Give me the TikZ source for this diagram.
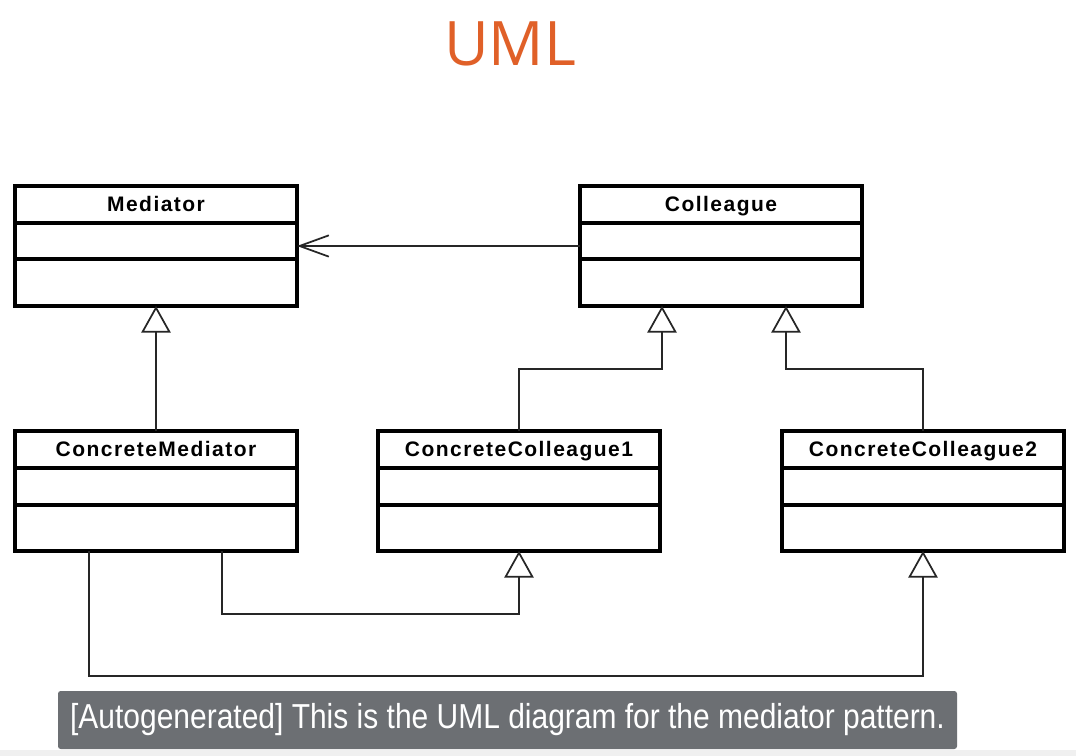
\documentclass[tikz,border=0pt]{standalone}
\usepackage{fontspec}
\usepackage{graphicx}
\setmainfont{Liberation Sans}
\newfontfamily\clsfont[LetterSpace=7]{Liberation Sans}
\newfontfamily\titlefont{Open Sans}
\usepackage{tikz}
\usetikzlibrary{shapes.multipart,arrows.meta,positioning}
\definecolor{umlorange}{RGB}{224,96,40}
\definecolor{capgray}{RGB}{108,111,115}
\definecolor{stripgray}{RGB}{240,240,240}
\newcommand{\clsrow}[2]{\parbox[c][#1][c]{\linewidth}{\centering\smash{#2}\rule{0pt}{11.2pt}}}
\tikzset{
  every node/.style={
    font=\clsfont\bfseries\fontsize{15.75}{18}\selectfont
  },
  umlclass/.style={
    rectangle split,
    rectangle split parts=3,
    draw=black,
    line width=2.4pt,
    text width=211.5pt,
    inner sep=0pt,
    outer sep=0pt,
    anchor=north west
  },
  inherit/.style={
    draw=black!85,
    line width=1.3pt,
    -{Triangle[open,length=20pt,width=22pt,line width=1.3pt]}
  },
  assoc/.style={
    draw=black!85,
    line width=1.3pt,
    -{Straight Barb[length=22pt,width=16pt,line width=1.3pt]}
  },
  title/.style={
    font=\titlefont\fontsize{46}{50}\selectfont,
    text=umlorange
  },
  caption/.style={
    fill=capgray,
    rounded corners=2pt,
    minimum width=674.25pt,
    minimum height=43.5pt,
    text=white,
    font=\rmfamily\fontsize{26}{30}\selectfont
  }
}

\begin{document}
\begin{tikzpicture}[x=0.75pt,y=-0.75pt]

\fill[white] (0,0) rectangle (1076,756);
\useasboundingbox (0,0) rectangle (1076,756);
\fill[stripgray] (0,750) rectangle (1076,756);

\node [title] (ttl) at (510,44) {UML};

\node [umlclass] (med) at (15,186) {
  \clsrow{25.35pt}{Mediator}
  \nodepart{second}\clsrow{24.6pt}{}
  \nodepart{third}\clsrow{32.85pt}{}
};
\node [umlclass] (col) at (580,186) {
  \clsrow{25.35pt}{Colleague}
  \nodepart{second}\clsrow{24.6pt}{}
  \nodepart{third}\clsrow{32.85pt}{}
};
\node [umlclass] (cmed) at (15,431) {
  \clsrow{25.35pt}{ConcreteMediator}
  \nodepart{second}\clsrow{25.35pt}{}
  \nodepart{third}\clsrow{32.1pt}{}
};
\node [umlclass] (cc1) at (378,431) {
  \clsrow{25.35pt}{ConcreteColleague1}
  \nodepart{second}\clsrow{25.35pt}{}
  \nodepart{third}\clsrow{32.1pt}{}
};
\node [umlclass] (cc2) at (782,431) {
  \clsrow{25.35pt}{ConcreteColleague2}
  \nodepart{second}\clsrow{25.35pt}{}
  \nodepart{third}\clsrow{32.1pt}{}
};

\draw [assoc] (col.west) -- (med.east);
\draw [inherit] (cmed.north) -- (med.south);
\draw [inherit] (cc1.north) -- ++(0,-62) -| ([xshift=-44.25pt]col.south);
\draw [inherit] (cc2.north) -- ++(0,-62) -| ([xshift=48.75pt]col.south);
\draw [inherit] ([xshift=49.5pt]cmed.south) -- ++(0,63) -| (cc1.south);
\draw [inherit] ([xshift=-50.25pt]cmed.south) -- ++(0,125) -| (cc2.south);

\node [caption] (cap) at (507.5,720)
  {\resizebox{656pt}{\height}{[Autogenerated] This is the UML diagram for the mediator pattern.}};

\end{tikzpicture}
\end{document}
